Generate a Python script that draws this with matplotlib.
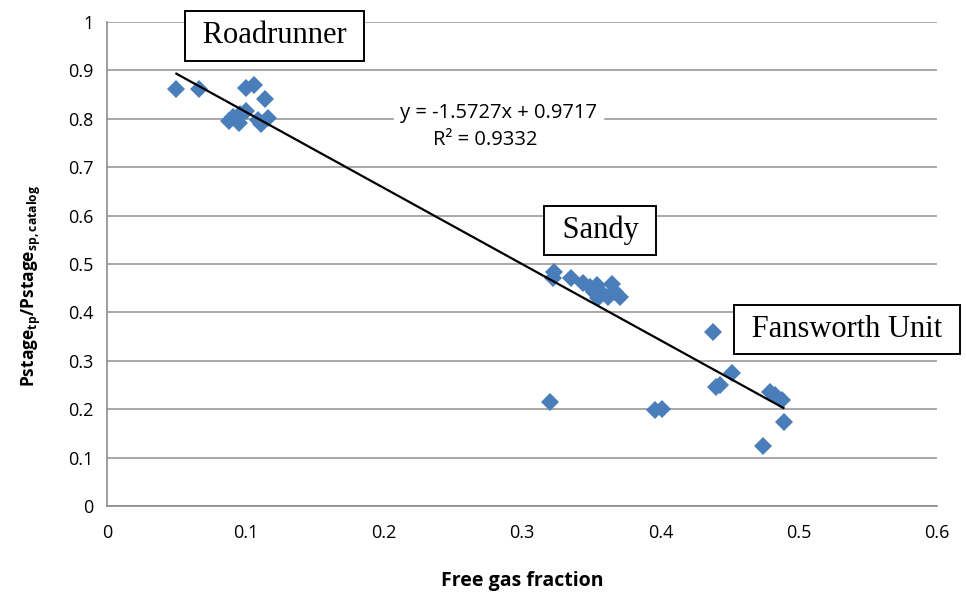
# free gas fraction vs normalized stage pressure, with linear trend
import numpy as np
import matplotlib
matplotlib.use('Agg')
import matplotlib.pyplot as plt

plt.rcParams['font.family'] = ['Open Sans', 'DejaVu Sans']
plt.rcParams['mathtext.fontset'] = 'custom'
plt.rcParams['mathtext.bf'] = 'Open Sans:bold'
plt.rcParams['mathtext.rm'] = 'Open Sans'

# Roadrunner
rr_x = [0.050, 0.066, 0.100, 0.106, 0.114, 0.088, 0.091, 0.096, 0.100, 0.095, 0.109, 0.116, 0.111]
rr_y = [0.862, 0.862, 0.864, 0.870, 0.840, 0.795, 0.804, 0.810, 0.815, 0.792, 0.797, 0.802, 0.790]
# Sandy
sandy_x = [0.323, 0.322, 0.335, 0.344, 0.349, 0.354, 0.352, 0.358, 0.365, 0.367, 0.371, 0.362, 0.355]
sandy_y = [0.483, 0.472, 0.471, 0.461, 0.452, 0.457, 0.442, 0.440, 0.459, 0.442, 0.432, 0.432, 0.430]
# Fansworth Unit and the rest
fw_x = [0.320, 0.438, 0.452, 0.443, 0.440, 0.396, 0.401, 0.479, 0.483, 0.488, 0.489, 0.474]
fw_y = [0.215, 0.360, 0.276, 0.250, 0.246, 0.198, 0.201, 0.236, 0.229, 0.219, 0.174, 0.124]

slope = -1.5727
icept = 0.9717
r2 = 0.9332

x = np.array(rr_x + sandy_x + fw_x)
y = np.array(rr_y + sandy_y + fw_y)

fig = plt.figure(figsize=(9.66, 5.92), dpi=100)
ax = fig.add_axes([0.111, 0.145, 0.859, 0.818])

ax.plot(x, y, 'D', color='#4a7ebb', markersize=9.5, markeredgewidth=0, zorder=3)
xl = np.array([x.min(), x.max()])
ax.plot(xl, slope * xl + icept, '-k', linewidth=1.6, zorder=4)

ax.set_xlim(0, 0.6)
ax.set_ylim(0, 1)
ax.set_xticks(np.arange(0, 0.61, 0.1))
ax.set_yticks(np.arange(0, 1.01, 0.1))
ax.set_xticklabels(['0', '0.1', '0.2', '0.3', '0.4', '0.5', '0.6'])
ax.set_yticklabels(['0', '0.1', '0.2', '0.3', '0.4', '0.5', '0.6', '0.7', '0.8', '0.9', '1'])
ax.yaxis.grid(True, color='#9a9a9a', linewidth=1.2)
ax.set_axisbelow(True)
for s in ['top', 'right']:
    ax.spines[s].set_visible(False)
for s in ['left', 'bottom']:
    ax.spines[s].set_color('#8c8c8c')
    ax.spines[s].set_linewidth(1.2)
ax.tick_params(length=0, labelsize=13, pad=13)
ax.tick_params(axis='y', pad=10)

ax.set_xlabel('Free gas fraction', fontsize=14, fontweight='bold', labelpad=21)
ax.set_ylabel(r'Pstage$_{\mathbf{tp}}$/Pstage$_{\mathbf{sp,catalog}}$',
              fontsize=12.5, fontweight='bold')
ax.yaxis.set_label_coords(-0.078, 0.455)

ax.text(0.283, 0.812, 'y = -1.5727x + 0.9717', fontsize=14.5, ha='center', va='center',
        backgroundcolor='white', zorder=5)
ax.text(0.273, 0.756, 'R² = 0.9332', fontsize=14.5, ha='center', va='center', zorder=5)

box = dict(boxstyle='square,pad=0.33', facecolor='white', edgecolor='black', linewidth=1.4)
ax.text(0.121, 0.971, ' Roadrunner ', fontsize=22, family='Liberation Serif',
        ha='center', va='center', bbox=box, zorder=6, clip_on=False)
ax.text(0.3565, 0.569, ' Sandy ', fontsize=22, family='Liberation Serif',
        ha='center', va='center', bbox=box, zorder=6)
ax.text(0.5347, 0.3647, ' Fansworth Unit ', fontsize=22, family='Liberation Serif',
        ha='center', va='center', bbox=box, zorder=6, clip_on=False)

plt.savefig('out.png', dpi=100)
